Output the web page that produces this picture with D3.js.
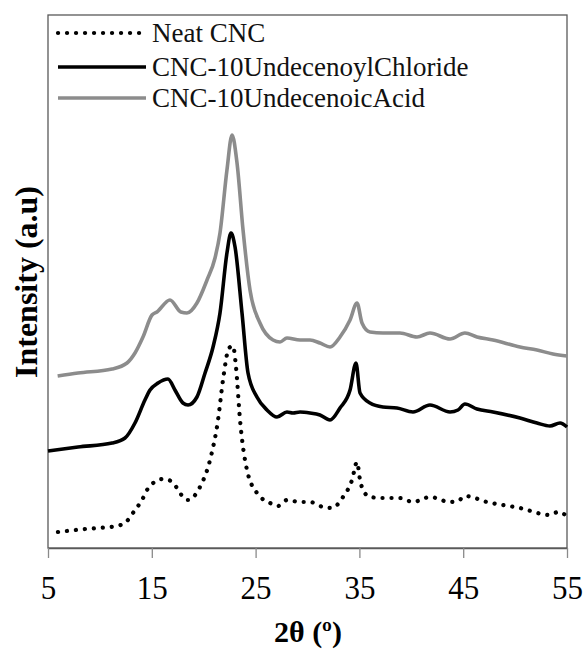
<!DOCTYPE html>
<html><head><meta charset="utf-8">
<script src="https://cdn.jsdelivr.net/npm/d3@7"></script>
<style>body{margin:0;background:#fff}svg{display:block}</style>
</head><body>
<svg id="c" width="586" height="649"></svg>
<script>
// ---- data ----
const seriesNames = ["Neat CNC", "CNC-10UndecenoylChloride", "CNC-10UndecenoicAcid"];
const xTicks = [5, 15, 25, 35, 45, 55];
const xLabel = "2θ (º)";
const yLabel = "Intensity (a.u)";

const neatTheta = [5.96,8.56,11.65,12.61,13.38,14.06,14.54,15.02,16.08,16.85,17.43,18.0,18.49,19.64,20.61,21.38,21.86,22.44,22.82,23.11,23.5,24.17,25.13,26.39,27.16,28.02,29.28,30.24,31.49,32.36,33.42,34.29,34.77,35.06,35.35,36.02,37.27,38.91,40.16,41.8,43.73,44.5,45.17,47.29,50.47,53.36,54.13,55];
const neatI = [16,19,22,27,38,48,58,64,69,67,60,51,48,61,88,128,168,200,202,181,128,78,55,45,42,48,46,46,41,40,51,68,86,68,58,51,50,50,46,51,46,47,52,46,40,33,36,32];

const chlTheta = [5.0,7.89,11.17,12.42,13.38,14.34,14.83,15.6,16.56,17.23,18.0,18.49,19.35,20.13,20.9,21.57,22.24,22.63,23.02,23.69,24.27,25.13,26.1,27.06,28.02,28.6,29.28,30.24,31.2,32.17,33.13,34.1,34.67,35.06,36.02,37.27,38.62,40.16,41.8,43.73,44.5,45.17,46.33,47.87,50.47,52.11,53.36,54.33,55];
const chlI = [97,101,105,110,125,148,158,165,169,158,145,143,151,175,201,235,295,315,301,235,175,151,138,131,136,135,136,135,133,128,140,158,185,155,145,141,140,136,143,136,138,144,139,136,130,125,122,125,121];

const acidTheta = [5.93,7.89,11.17,12.61,13.38,14.15,15.02,15.5,16.75,17.8,18.39,19.35,20.32,21.09,21.57,22.24,22.73,23.21,23.79,24.46,25.42,26.68,27.35,28.02,29.28,30.24,31.2,32.17,33.13,34.1,34.77,35.25,36.02,37.27,38.91,40.55,41.8,43.73,45.17,46.33,47.87,50.47,52.11,53.65,55];
const acidI = [172,175,179,185,195,211,233,236,248,236,235,245,268,290,315,378,413,385,318,258,225,208,206,210,208,208,205,201,211,228,245,225,216,215,215,211,215,209,215,211,208,201,198,194,192];

// ---- layout ----
const svg = d3.select("#c");
const L = 48, R = 567, T = 15, B = 548;
const x = d3.scaleLinear().domain([5, 55]).range([L, R]);
const y = d3.scaleLinear().domain([0, B - T]).range([B, T]);
const serif = "'Liberation Serif','Times New Roman',serif";

// frame
svg.append("rect").attr("x", L).attr("y", T).attr("width", R - L).attr("height", B - T)
  .attr("fill", "none").attr("stroke", "#595959").attr("stroke-width", 1.3);

// x axis
const xa = svg.append("g").attr("transform", `translate(0,${B})`)
  .call(d3.axisBottom(x).tickValues(xTicks).tickSize(10).tickSizeOuter(0).tickPadding(0).tickFormat(d3.format("d")));
xa.select(".domain").attr("stroke", "#595959").attr("stroke-width", 1.3);
xa.selectAll(".tick line").attr("stroke", "#8a8a8a").attr("stroke-width", 1.3);
xa.selectAll(".tick text").attr("font-family", serif).attr("font-size", 31).attr("fill", "#000")
  .attr("y", 51).attr("dy", null).attr("transform", "scale(1,1.08)").attr("transform-origin", "0 51");

svg.append("text").attr("x", 308).attr("y", 642).attr("text-anchor", "middle")
  .attr("font-family", serif).attr("font-weight", "bold").attr("font-size", 30).text(xLabel);
svg.append("text").attr("transform", `translate(37,282) rotate(-90)`).attr("text-anchor", "middle")
  .attr("font-family", serif).attr("font-weight", "bold").attr("font-size", 32).text(yLabel);

// lines
const line = d3.line().x(d => x(d[0])).y(d => y(d[1])).curve(d3.curveMonotoneX);
const series = [
  {theta: neatTheta, I: neatI, color: "#000", dash: "0.1 8.9", w: 4.2, cap: "round"},
  {theta: chlTheta, I: chlI, color: "#000", dash: null, w: 3.6, cap: "butt"},
  {theta: acidTheta, I: acidI, color: "#8c8c8c", dash: null, w: 3.6, cap: "butt"}
];
series.forEach(s => {
  svg.append("path").datum(d3.zip(s.theta, s.I)).attr("d", line)
    .attr("fill", "none").attr("stroke", s.color).attr("stroke-width", s.w)
    .attr("stroke-dasharray", s.dash).attr("stroke-linecap", s.cap).attr("stroke-linejoin", "round");
});

// legend
const lg = svg.append("g");
const rowsY = [33, 67, 98];
series.forEach((s, i) => {
  lg.append("line").attr("x1", 58).attr("x2", 146).attr("y1", rowsY[i]).attr("y2", rowsY[i])
    .attr("stroke", s.color).attr("stroke-width", s.w).attr("stroke-dasharray", s.dash).attr("stroke-linecap", s.cap);
  lg.append("text").attr("x", 152).attr("y", rowsY[i]).attr("dy", "0.33em")
    .attr("font-family", serif).attr("font-size", 27).attr("fill", "#111").text(seriesNames[i]);
});
</script>
</body></html>
